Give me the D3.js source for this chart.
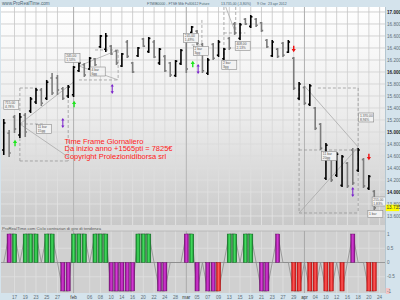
<!DOCTYPE html>
<html>
<head>
<meta charset="utf-8">
<script src="https://cdn.jsdelivr.net/npm/d3@7"></script>
<style>
body { margin: 0; background: #d4e3ec; }
svg { display: block; font-family: "Liberation Sans", Arial, sans-serif; }
</style>
</head>
<body>
<script>

// daily bars, 13 gen .. 23 apr 2012 (bar index = trading day)
var openP  = [14700,14980,15250,14950,15280,15350,15500,15700,15560,15900, 15900,15720,15600,15620,16020,16120,16050,16220,16420,16380,
              16430,16350,16100,16500,16150,16270,16550,16340,16500,16150, 16260,16150,15940,16140,16550,16660,16680,16460,15980,16460,
              16280,16220,16560,16800,16560,16880,16760,16880,16820,16530, 16270,16380,16480,16330,16230,15560,15740,15460,15400,15130,
              14230,14640,14280,14110,14480,14700,14360,14540,14060,14010];
var highP  = [15217,15033,15283,15317,15317,15583,15733,15733,15867,15983, 15950,15750,15783,16100,16167,16150,16250,16233,16617,16650,
              16450,16367,16317,16533,16167,16417,16567,16583,16533,16400, 16283,16167,16200,16383,16583,16767,16700,16483,16233,16483,
              16533,16400,16583,16833,16817,16900,16950,16900,16833,16550, 16533,16400,16500,16533,16250,15833,15767,15800,15417,15150,
              14817,14667,14667,14617,14500,14733,14733,14567,14283,14033];
var lowP   = [14617,14583,14983,14900,14917,15317,15467,15433,15533,15617, 15617,15533,15567,15583,16000,15917,16033,16100,16400,16333,
              16283,16117,16083,16233,15983,16250,16417,16317,16233,16117, 16000,15917,15917,16117,15983,16650,16450,15983,15950,16200,
              16250,16200,16367,16617,16533,16783,16733,16750,16667,16400, 16250,16233,16250,16317,15700,15533,15450,15433,15033,14700,
              14200,14167,14250,14083,14067,14117,14333,14067,14033,13700];
var closeP = [15150,14650,15050,15250,15000,15550,15700,15480,15830,15650, 15700,15560,15750,16080,16150,15950,16230,16120,16600,16600,
              16300,16150,16300,16260,16000,16400,16430,16560,16250,16380, 16020,15950,16180,16360,16050,16750,16480,16020,16200,16230,
              16500,16380,16400,16650,16790,16800,16920,16780,16690,16420, 16500,16260,16280,16500,15730,15800,15480,15770,15060,14730,
              14780,14200,14630,14590,14100,14150,14700,14100,14260,13735];

// lower indicator: value and colour (g green, m magenta, r red)
var oscVal = [0,1,1,0,1,1,1,0,1,1, 0,-1,-1,1,1,1,0,1,1,1, -1,-1,-1,-1,-1,1,1,1,0,-1, -1,0,0,0,1,1,-1,0,-1,-1,
              -1,0,1,1,0,1,1,0,-1,-1, 0,1,0,0,-1,-1,0,-1,-1,0, -1,-1,0,-1,0,1,0,0,-1,-1];
var oscCol = ["","m","g","","g","g","g","","g","g", "","m","m","g","g","g","","g","g","g",
              "m","m","m","m","m","g","g","g","","m", "m","","","","m","g","m","","m","m",
              "r","","g","g","","g","g","","m","m", "","m","","","r","r","","r","r","",
              "r","r","","r","","m","","","r","r"];

// x axis
var tickIdx = [2,4,6,8,10,13,16,18,20,22,24,26,28,30,32,34,36,38,40,42,44,46,48,50,52,54,56,58,60,62,64,66,68,70];
var tickLab = ["17","19","23","25","27","feb","06","08","10","14","16","20","22","24","28","mar","05","07","09","13",
               "15","19","21","23","27","29","apr","04","10","12","16","18","20","24"];
var monthIdx = [13, 34, 56];
var priceTicks = d3.range(13600, 17001, 200);
var oscTicks = [1, 0.5, 0, -0.5, -1];

// drawing tool annotations: [i1, p1, i2, p2]
var dashSeg = [[3,15733,3,14517],[3,14517,12,14517],[3,15733,6.2,15733],[3,15133,7.7,15133],[12,15533,12,14517],
               [14,15867,21.3,15867],[21.3,16367,21.3,15867],[17,16367,21.3,16367],
               [36.9,16867,36.9,16450],[35,16450,37,16450],
               [41,17083,41,16200],[43.2,17083,43.2,16650],[41,16650,45,16650],
               [55,15733,55,13650],[66,15733,66,13650],[58.5,15733,66,15733],[55,14700,66,14700],[55,13650,66,13650]];
var lineSeg = [[3,15133,12,14583],[3,15133,13,15833],[14,16100,21.3,16367],[14,16100,21.3,15867],
               [41.2,17117,43.1,16667],[56,15767,66,14750],[55,13650,66,14750]];
var boxI  = [1.4, 7.5, 12.8, 17.5, 34.9, 36.7, 42, 44.5, 67.5, 60.6, 70, 69.2];
var boxP  = [15450, 15050, 16233, 16008, 16567, 16350, 16117, 16433, 15242, 14600, 13842, 13633];
var boxT1 = ["715,00","11 bar","245,00","4 bar","245,00","2 bar","2 bar","408,00","1.370,00","11 bar","255,00","1 bar"];
var boxT2 = ["4,78%","15gg","1,53%","6gg","1,49%","3gg","3gg","2,13%","8,94%","20gg","1,83%",""];

// signal arrows
var greenI = [2.1, 13.1, 35.2],  greenP = [14817, 15467, 16133];
var purpleI = [20.2, 11, 36.2, 65], purpleP = [15717, 15150, 16050, 14000];
var redI = [54, 68], redP = [16383, 14583];

var W = 400, H = 300;
var fmt = function(v) { return d3.format(",")(v).replace(/,/g, "."); };

var x = d3.scaleLinear().domain([-0.7, 71]).range([0, 385]);
var y = d3.scaleLinear().domain([13450, 17083]).range([225, 7]);
var yo = d3.scaleLinear().domain([-1, 1]).range([291, 234]);

var svg = d3.select("body").append("svg")
	.attr("width", W)
	.attr("height", H);

var defs = svg.append("defs");
function vgrad(id, stops, user) {
	var g = defs.append("linearGradient").attr("id", id);
	if (user) g.attr("gradientUnits", "userSpaceOnUse").attr("x1", 0).attr("x2", 0).attr("y1", 7).attr("y2", 225);
	else g.attr("x1", 0).attr("x2", 0).attr("y1", 0).attr("y2", 1);
	stops.forEach(function(s, k) { g.append("stop").attr("offset", k / (stops.length - 1)).attr("stop-color", s); });
}
function hgrad(id, stops) {
	var g = defs.append("linearGradient").attr("id", id).attr("x1", 0).attr("x2", 1).attr("y1", 0).attr("y2", 0);
	stops.forEach(function(s, k) { g.append("stop").attr("offset", k / (stops.length - 1)).attr("stop-color", s); });
}
vgrad("bgMain", ["#ffffff", "#ececec", "#c9c9c9"]);
vgrad("gridG", ["#c4c4c4", "#e6e6e6"], true);
hgrad("gG", ["#0f7f27", "#45e060", "#0f7f27"]);
hgrad("gM", ["#7e0c7e", "#d83ad8", "#7e0c7e"]);
hgrad("gR", ["#c80e0e", "#ff5a5a", "#c80e0e"]);
defs.append("clipPath").attr("id", "cMain").append("rect").attr("x", 1).attr("y", 7).attr("width", 384).attr("height", 218);
defs.append("clipPath").attr("id", "cSub").append("rect").attr("x", 1).attr("y", 231).attr("width", 384).attr("height", 62);

// panels
svg.append("rect").attr("x", 1).attr("y", 7).attr("width", 384).attr("height", 218).attr("fill", "url(#bgMain)");
svg.append("rect").attr("x", 1).attr("y", 225).attr("width", 384).attr("height", 6).attr("fill", "#dadada");
svg.append("rect").attr("x", 1).attr("y", 231).attr("width", 384).attr("height", 62).attr("fill", "#d0d0d0");

var main = svg.append("g").attr("clip-path", "url(#cMain)");
var sub = svg.append("g").attr("clip-path", "url(#cSub)");

// grid main
main.selectAll(".vg").data(tickIdx).enter().append("line")
	.attr("x1", function(d) { return x(d); }).attr("x2", function(d) { return x(d); })
	.attr("y1", 7).attr("y2", 225)
	.attr("stroke", "url(#gridG)").attr("stroke-width", 0.8);
main.selectAll(".hg").data(priceTicks).enter().append("line")
	.attr("x1", 1).attr("x2", 385)
	.attr("y1", function(d) { return y(d); }).attr("y2", function(d) { return y(d); })
	.attr("stroke", "url(#gridG)").attr("stroke-width", 0.8);
main.selectAll(".mg").data(monthIdx).enter().append("line")
	.attr("x1", function(d) { return x(d); }).attr("x2", function(d) { return x(d); })
	.attr("y1", 7).attr("y2", 225)
	.attr("stroke", "#a8a8a8").attr("stroke-width", 0.8);

// annotations
main.selectAll(".ds").data(dashSeg).enter().append("line")
	.attr("x1", function(d) { return x(d[0]); }).attr("y1", function(d) { return y(d[1]); })
	.attr("x2", function(d) { return x(d[2]); }).attr("y2", function(d) { return y(d[3]); })
	.attr("stroke", "#8e8e8e").attr("stroke-width", 0.7).attr("stroke-dasharray", "3,2");
main.selectAll(".ls").data(lineSeg).enter().append("line")
	.attr("x1", function(d) { return x(d[0]); }).attr("y1", function(d) { return y(d[1]); })
	.attr("x2", function(d) { return x(d[2]); }).attr("y2", function(d) { return y(d[3]); })
	.attr("stroke", "#a2a2a2").attr("stroke-width", 0.7);

// OHLC bars
var bars = main.selectAll(".bar").data(d3.range(openP.length)).enter().append("g")
	.attr("stroke", function(i) { return closeP[i] >= openP[i] ? "#000" : "#7c7c7c"; })
	.attr("stroke-width", 1.6);
bars.append("line")
	.attr("x1", function(i) { return x(i); }).attr("x2", function(i) { return x(i); })
	.attr("y1", function(i) { return y(highP[i]); }).attr("y2", function(i) { return y(lowP[i]); });
bars.append("line")
	.attr("x1", function(i) { return x(i) - 1.7; }).attr("x2", function(i) { return x(i); })
	.attr("y1", function(i) { return y(openP[i]); }).attr("y2", function(i) { return y(openP[i]); });
bars.append("line")
	.attr("x1", function(i) { return x(i); }).attr("x2", function(i) { return x(i) + 1.7; })
	.attr("y1", function(i) { return y(closeP[i]); }).attr("y2", function(i) { return y(closeP[i]); });

// arrows
var upPath = "M0,-3.2L2.1,0L0.7,0L0.7,3.2L-0.7,3.2L-0.7,0L-2.1,0Z";
var dnPath = "M0,3.2L2.1,0L0.7,0L0.7,-3.2L-0.7,-3.2L-0.7,0L-2.1,0Z";
var dblPath = "M0,-5L1.6,-2.4L0.5,-2.4L0.5,2.4L1.6,2.4L0,5L-1.6,2.4L-0.5,2.4L-0.5,-2.4L-1.6,-2.4Z";
main.selectAll(".ga").data(greenI).enter().append("path").attr("d", upPath).attr("fill", "#1ee61e")
	.attr("transform", function(d, k) { return "translate(" + x(d) + "," + y(greenP[k]) + ")"; });
main.selectAll(".pa").data(purpleI).enter().append("path").attr("d", dblPath).attr("fill", "#7a22cc")
	.attr("transform", function(d, k) { return "translate(" + x(d) + "," + y(purpleP[k]) + ")"; });
main.selectAll(".ra").data(redI).enter().append("path").attr("d", dnPath).attr("fill", "#ee1010")
	.attr("transform", function(d, k) { return "translate(" + x(d) + "," + y(redP[k]) + ")"; });

// annotation label boxes
var boxes = main.selectAll(".bx").data(boxI).enter().append("g")
	.attr("transform", function(d, k) { return "translate(" + x(d) + "," + y(boxP[k]) + ")"; });
boxes.append("rect").attr("x", -7.5).attr("y", function(d, k) { return boxT2[k] ? -4.5 : -3.5; })
	.attr("width", 15).attr("height", function(d, k) { return boxT2[k] ? 9 : 7; })
	.attr("fill", "#f2f2f2").attr("stroke", "#8a8a8a").attr("stroke-width", 0.6);
boxes.append("text").attr("x", -6.3).attr("y", function(d, k) { return boxT2[k] ? -0.8 : 1.2; })
	.attr("font-size", 3.3).attr("fill", "#555").text(function(d, k) { return boxT1[k]; });
boxes.append("text").attr("x", -6.3).attr("y", 3.3)
	.attr("font-size", 3.3).attr("fill", "#555").text(function(d, k) { return boxT2[k]; });

// red comment text
var note = ["Time Frame Giornaliero", "Da inizio anno +1565pti = 7825€", "Copyright Prolezionidiborsa srl"];
svg.selectAll(".note").data(note).enter().append("text")
	.attr("x", 64.5).attr("y", function(d, k) { return 143.5 + k * 7.8; })
	.attr("font-size", 7.5).attr("fill", "#ff1a1a").text(function(d) { return d; });

// lower panel
sub.selectAll(".vg").data(tickIdx).enter().append("line")
	.attr("x1", function(d) { return x(d); }).attr("x2", function(d) { return x(d); })
	.attr("y1", 231).attr("y2", 293).attr("stroke", "#e0e0e0").attr("stroke-width", 0.8);
sub.selectAll(".hg").data([0.5, -0.5]).enter().append("line")
	.attr("x1", 1).attr("x2", 385)
	.attr("y1", function(d) { return yo(d); }).attr("y2", function(d) { return yo(d); })
	.attr("stroke", "#e0e0e0").attr("stroke-width", 0.8);
sub.selectAll(".mg").data(monthIdx).enter().append("line")
	.attr("x1", function(d) { return x(d); }).attr("x2", function(d) { return x(d); })
	.attr("y1", 231).attr("y2", 293).attr("stroke", "#9a9a9a").attr("stroke-width", 0.8);
sub.append("line").attr("x1", 1).attr("x2", 385).attr("y1", yo(0)).attr("y2", yo(0))
	.attr("stroke", "#8a8a8a").attr("stroke-width", 0.8);

sub.append("path").datum(oscVal)
	.attr("d", d3.line().x(function(d, i) { return x(i); }).y(function(d) { return yo(d); }))
	.attr("fill", "none").attr("stroke", "#8c8c8c").attr("stroke-width", 0.8);

var colFill = { g: "url(#gG)", m: "url(#gM)", r: "url(#gR)" };
var colLine = { g: "#0a5e1c", m: "#5e0a5e", r: "#a00000" };
sub.selectAll(".ob").data(d3.range(oscVal.length).filter(function(i) { return oscVal[i] !== 0; })).enter().append("rect")
	.attr("x", function(i) { return x(i) - 2.1; })
	.attr("width", 4.2)
	.attr("y", function(i) { return Math.min(yo(oscVal[i]), yo(0)); })
	.attr("height", function(i) { return Math.abs(yo(oscVal[i]) - yo(0)); })
	.attr("fill", function(i) { return colFill[oscCol[i]]; })
	.attr("stroke", function(i) { return colLine[oscCol[i]]; })
	.attr("stroke-width", 0.4);

svg.append("text").attr("x", 2).attr("y", 229.8).attr("font-size", 4.2).attr("fill", "#555")
	.text("ProRealTime.com  Ciclo contrarian di giro di tendenza");
svg.append("line").attr("x1", 1).attr("x2", 385).attr("y1", 231).attr("y2", 231).attr("stroke", "#a8a8a8").attr("stroke-width", 0.6);

// right axis
svg.append("line").attr("x1", 385.5).attr("x2", 385.5).attr("y1", 7).attr("y2", 293).attr("stroke", "#9fb2bd").attr("stroke-width", 0.6);
svg.selectAll(".pl").data(priceTicks).enter().append("text")
	.attr("x", 387).attr("y", function(d) { return y(d) + 1.6; })
	.attr("font-size", 4.6)
	.attr("font-weight", function(d) { return d % 1000 === 0 ? "bold" : "normal"; })
	.attr("fill", function(d) { return d % 1000 === 0 ? "#222" : "#5d6d77"; })
	.text(function(d) { return fmt(d); });
var last = closeP[closeP.length - 1];
svg.append("rect").attr("x", 385.8).attr("y", y(last) - 3.2).attr("width", 13.5).attr("height", 6.4).attr("fill", "#ffff00");
svg.append("text").attr("x", 386.5).attr("y", y(last) + 1.6).attr("font-size", 4.6).attr("fill", "#333").text(fmt(last));

svg.append("rect").attr("x", 385.8).attr("y", yo(-1) - 3).attr("width", 4).attr("height", 6).attr("fill", "#f3c6c6");
svg.selectAll(".ol").data(oscTicks).enter().append("text")
	.attr("x", 387).attr("y", function(d) { return yo(d) + 1.6; })
	.attr("font-size", 4.6).attr("fill", "#5d6d77")
	.text(function(d) { return d; });

// bottom axis
svg.selectAll(".xl").data(tickIdx).enter().append("text")
	.attr("x", function(d) { return x(d); }).attr("y", 298.5)
	.attr("text-anchor", "middle").attr("font-size", 4.6)
	.attr("fill", function(d, k) { return monthIdx.indexOf(d) >= 0 ? "#333" : "#5d6d77"; })
	.text(function(d, k) { return tickLab[k]; });

// header
svg.append("text").attr("x", 2).attr("y", 5.3).attr("font-size", 4.6).attr("fill", "#4b6472")
	.text("www.ProRealTime.com");
var head = [["FTMIB0000 - FTSE Mib Full0612 Future", 147], [fmt(last) + ",00 (-3,80%)", 221],
            ["9 Ore", 257], ["23 apr 2012", 268]];
svg.selectAll(".hd").data(head).enter().append("text")
	.attr("x", function(d) { return d[1]; }).attr("y", 5.3)
	.attr("font-size", 3.5).attr("fill", "#4b6472")
	.text(function(d) { return d[0]; });

</script>
</body>
</html>
